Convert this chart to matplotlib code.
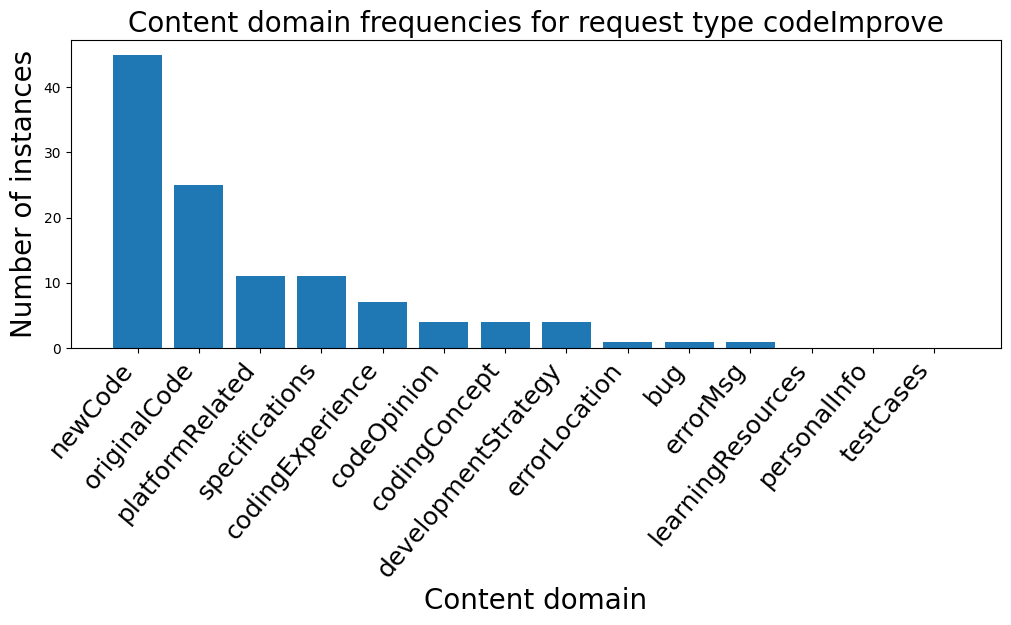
import numpy as np
import matplotlib
matplotlib.use("Agg")
import matplotlib.pyplot as plt

domains = ["newCode", "originalCode", "platformRelated", "specifications",
           "codingExperience", "codeOpinion", "codingConcept",
           "developmentStrategy", "errorLocation", "bug", "errorMsg",
           "learningResources", "personalInfo", "testCases"]
counts = [45, 25, 11, 11, 7, 4, 4, 4, 1, 1, 1, 0, 0, 0]

fig, ax = plt.subplots(figsize=(10.11, 6.25), dpi=100)
fig.subplots_adjust(left=0.070, right=0.990, top=0.936, bottom=0.443)

ax.bar(domains, counts, color="#1f77b4")
ax.set_title("Content domain frequencies for request type codeImprove", fontsize=20)
ax.set_xlabel("Content domain", fontsize=20)
ax.set_ylabel("Number of instances", fontsize=20)
plt.setp(ax.get_xticklabels(), rotation=50, ha="right", fontsize=18)

plt.savefig("out.png", dpi=100)
